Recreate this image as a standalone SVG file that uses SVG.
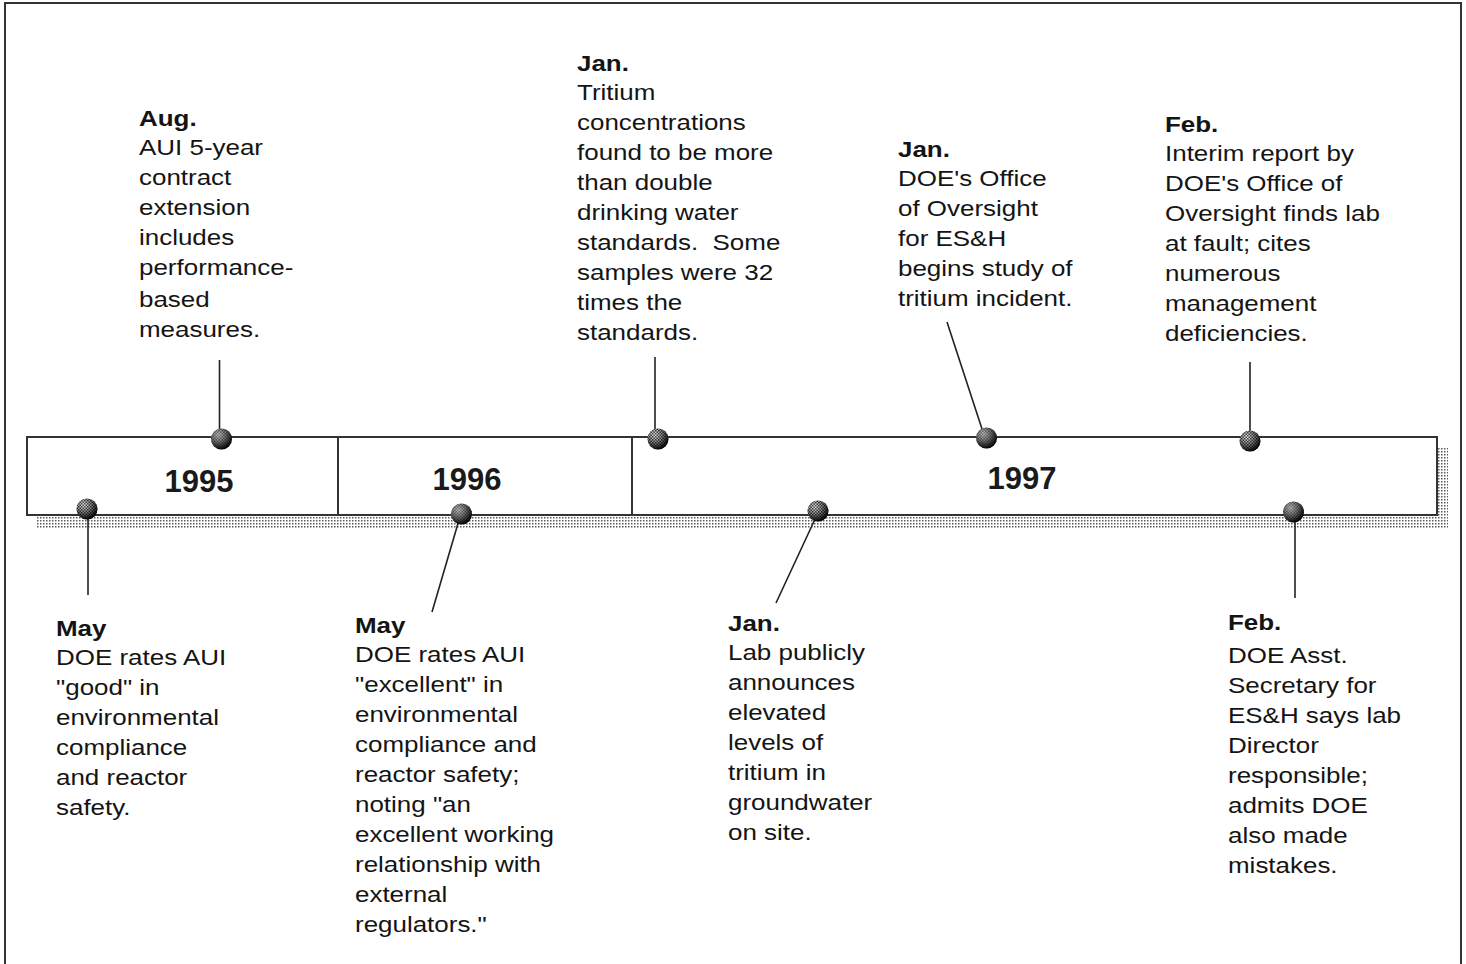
<svg xmlns="http://www.w3.org/2000/svg" width="1466" height="964" viewBox="0 0 1466 964">
<style>
.t{font-family:"Liberation Sans",Arial,Helvetica,sans-serif;font-size:22px;fill:#141414}
.b{font-weight:bold}
.yr{font-family:"Liberation Sans",Arial,Helvetica,sans-serif;font-size:31px;font-weight:bold;fill:#1a1a1a;text-anchor:middle}
.ln{stroke:#222;stroke-width:1.6;fill:none}
.frame{stroke:#333;stroke-width:2;fill:none}
</style>
<defs>
<pattern id="dots" width="3" height="3" patternUnits="userSpaceOnUse">
<rect width="3" height="3" fill="#ffffff"/>
<rect x="1" y="1" width="1.5" height="1.5" fill="#5a5a5a"/>
</pattern>
<radialGradient id="ballg" cx="35%" cy="30%" r="70%">
<stop offset="0" stop-color="#f2f2f2"/>
<stop offset="0.5" stop-color="#8a8a8a"/>
<stop offset="1" stop-color="#0a0a0a"/>
</radialGradient>
<pattern id="chk" width="3" height="3" patternUnits="userSpaceOnUse">
<rect width="1.5" height="1.5" fill="#000" fill-opacity="0.7"/>
<rect x="1.5" y="1.5" width="1.5" height="1.5" fill="#000" fill-opacity="0.7"/>
</pattern>
<g id="ball">
<circle r="10.5" fill="url(#ballg)"/>
<circle r="10.5" fill="url(#chk)"/>
</g>
</defs>
<rect width="1466" height="964" fill="#ffffff"/>
<path class="frame" d="M5,970 V3 H1461 V970"/>

<g id="timeline">
<rect x="37" y="447" width="1411" height="81" fill="url(#dots)"/>
<rect x="27" y="437" width="1410" height="78" fill="#ffffff" stroke="#333" stroke-width="2"/>
<line x1="338" y1="437" x2="338" y2="515" stroke="#333" stroke-width="2"/>
<line x1="632" y1="437" x2="632" y2="515" stroke="#333" stroke-width="2"/>
<text class="yr" x="199" y="492">1995</text>
<text class="yr" x="467" y="490">1996</text>
<text class="yr" x="1022" y="489">1997</text>
</g>

<g id="connectors">
<line class="ln" x1="219.5" y1="360" x2="219.5" y2="432"/>
<line class="ln" x1="88" y1="515" x2="88" y2="595"/>
<line class="ln" x1="459" y1="520" x2="432" y2="612"/>
<line class="ln" x1="655" y1="357" x2="655" y2="432"/>
<line class="ln" x1="816" y1="517" x2="776" y2="603"/>
<line class="ln" x1="947" y1="322" x2="983" y2="432"/>
<line class="ln" x1="1250" y1="362" x2="1250" y2="436"/>
<line class="ln" x1="1295" y1="518" x2="1295" y2="598"/>
</g>

<g id="markers">
<use href="#ball" x="221.5" y="439"/>
<use href="#ball" x="87" y="509"/>
<use href="#ball" x="461.5" y="514"/>
<use href="#ball" x="658" y="439"/>
<use href="#ball" x="818" y="511"/>
<use href="#ball" x="986.5" y="438"/>
<use href="#ball" x="1250" y="441"/>
<use href="#ball" x="1293.5" y="512"/>
</g>

<g id="n-aug-1995" transform="translate(139,0) scale(1.18,1)">
<text class="t"><tspan class="b" x="0" y="126">Aug.</tspan><tspan x="0" y="155">AUI 5-year</tspan><tspan x="0" y="185">contract</tspan><tspan x="0" y="215">extension</tspan><tspan x="0" y="245">includes</tspan><tspan x="0" y="275">performance-</tspan><tspan x="0" y="307">based</tspan><tspan x="0" y="337">measures.</tspan></text>
</g>

<g id="n-jan-tritium" transform="translate(577,0) scale(1.18,1)">
<text class="t"><tspan class="b" x="0" y="71">Jan.</tspan><tspan x="0" y="100">Tritium</tspan><tspan x="0" y="130">concentrations</tspan><tspan x="0" y="160">found to be more</tspan><tspan x="0" y="190">than double</tspan><tspan x="0" y="220">drinking water</tspan><tspan x="0" y="250">standards.&#160; Some</tspan><tspan x="0" y="280">samples were 32</tspan><tspan x="0" y="310">times the</tspan><tspan x="0" y="340">standards.</tspan></text>
</g>

<g id="n-jan-oversight" transform="translate(898,0) scale(1.18,1)">
<text class="t"><tspan class="b" x="0" y="157">Jan.</tspan><tspan x="0" y="186">DOE's Office</tspan><tspan x="0" y="216">of Oversight</tspan><tspan x="0" y="246">for ES&amp;H</tspan><tspan x="0" y="276">begins study of</tspan><tspan x="0" y="306">tritium incident.</tspan></text>
</g>

<g id="n-feb-interim" transform="translate(1165,0) scale(1.18,1)">
<text class="t"><tspan class="b" x="0" y="132">Feb.</tspan><tspan x="0" y="161">Interim report by</tspan><tspan x="0" y="191">DOE's Office of</tspan><tspan x="0" y="221">Oversight finds lab</tspan><tspan x="0" y="251">at fault; cites</tspan><tspan x="0" y="281">numerous</tspan><tspan x="0" y="311">management</tspan><tspan x="0" y="341">deficiencies.</tspan></text>
</g>

<g id="n-may-1995" transform="translate(56,0) scale(1.18,1)">
<text class="t"><tspan class="b" x="0" y="636">May</tspan><tspan x="0" y="665">DOE rates AUI</tspan><tspan x="0" y="695">"good" in</tspan><tspan x="0" y="725">environmental</tspan><tspan x="0" y="755">compliance</tspan><tspan x="0" y="785">and reactor</tspan><tspan x="0" y="815">safety.</tspan></text>
</g>

<g id="n-may-1996" transform="translate(355,0) scale(1.18,1)">
<text class="t"><tspan class="b" x="0" y="633">May</tspan><tspan x="0" y="662">DOE rates AUI</tspan><tspan x="0" y="692">"excellent" in</tspan><tspan x="0" y="722">environmental</tspan><tspan x="0" y="752">compliance and</tspan><tspan x="0" y="782">reactor safety;</tspan><tspan x="0" y="812">noting "an</tspan><tspan x="0" y="842">excellent working</tspan><tspan x="0" y="872">relationship with</tspan><tspan x="0" y="902">external</tspan><tspan x="0" y="932">regulators."</tspan></text>
</g>

<g id="n-jan-lab" transform="translate(728,0) scale(1.18,1)">
<text class="t"><tspan class="b" x="0" y="631">Jan.</tspan><tspan x="0" y="660">Lab publicly</tspan><tspan x="0" y="690">announces</tspan><tspan x="0" y="720">elevated</tspan><tspan x="0" y="750">levels of</tspan><tspan x="0" y="780">tritium in</tspan><tspan x="0" y="810">groundwater</tspan><tspan x="0" y="840">on site.</tspan></text>
</g>

<g id="n-feb-asst" transform="translate(1228,0) scale(1.18,1)">
<text class="t"><tspan class="b" x="0" y="630">Feb.</tspan><tspan x="0" y="663">DOE Asst.</tspan><tspan x="0" y="693">Secretary for</tspan><tspan x="0" y="723">ES&amp;H says lab</tspan><tspan x="0" y="753">Director</tspan><tspan x="0" y="783">responsible;</tspan><tspan x="0" y="813">admits DOE</tspan><tspan x="0" y="843">also made</tspan><tspan x="0" y="873">mistakes.</tspan></text>
</g>
</svg>
